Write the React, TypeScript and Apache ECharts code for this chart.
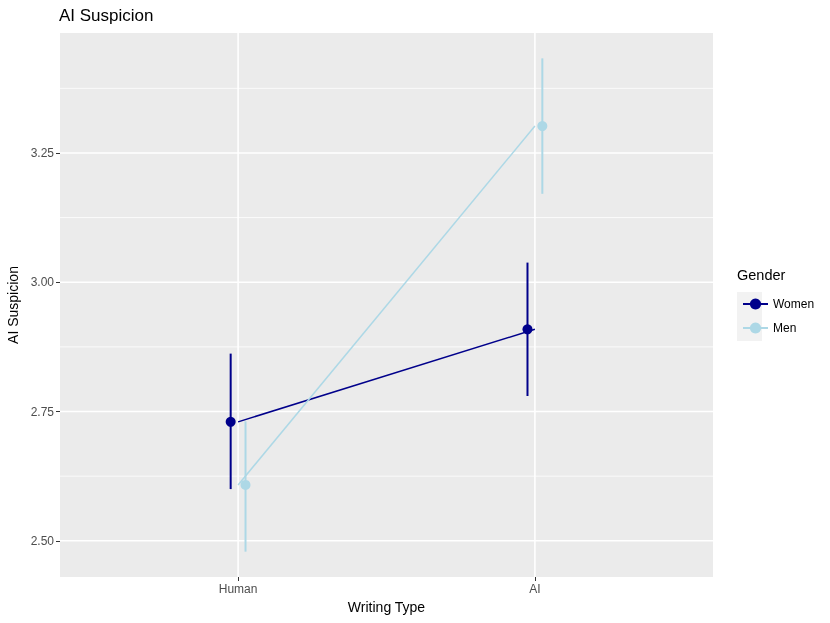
import React, { useEffect, useRef } from "react";
import * as echarts from "echarts";

const categories = ["Human", "AI"];
const categoryPos = [1, 2];
const dodge = 0.025;

const womenMean = [2.73, 2.909];
const womenLow = [2.6, 2.78];
const womenHigh = [2.862, 3.038];

const menMean = [2.608, 3.302];
const menLow = [2.479, 3.171];
const menHigh = [2.731, 3.433];

const yTicks = [2.5, 2.75, 3.0, 3.25];
const yMinor = [2.625, 2.875, 3.125, 3.375];

const X_MIN = 0.4;
const X_MAX = 2.6;
const Y_MIN = 2.43;
const Y_MAX = 3.482;

const WOMEN = "#00008B";
const MEN = "#ADD8E6";
const FONT = "Liberation Sans, Arial, sans-serif";

function errorSeries(name: string, color: string, offset: number, low: number[], high: number[]) {
  return {
    type: "custom",
    name,
    z: 4,
    data: categoryPos.map((x, i) => [x + offset, low[i], high[i]]),
    encode: { x: 0, y: [1, 2] },
    renderItem: (_params: any, api: any) => {
      const x = api.value(0);
      const p1 = api.coord([x, api.value(1)]);
      const p2 = api.coord([x, api.value(2)]);
      return {
        type: "line",
        shape: { x1: p1[0], y1: p1[1], x2: p2[0], y2: p2[1] },
        style: { stroke: color, lineWidth: 2 },
      };
    },
    silent: true,
  };
}

function hGridSeries(values: number[], width: number) {
  return {
    type: "custom",
    name: "__hgrid" + width,
    z: 1,
    silent: true,
    data: values.map((v) => [X_MIN, v]),
    encode: { x: 0, y: 1 },
    renderItem: (_params: any, api: any) => {
      const y = api.value(1);
      const p1 = api.coord([X_MIN, y]);
      const p2 = api.coord([X_MAX, y]);
      return {
        type: "line",
        shape: { x1: p1[0], y1: p1[1], x2: p2[0], y2: p2[1] },
        style: { stroke: "#FFFFFF", lineWidth: width },
      };
    },
  };
}

function vGridSeries(values: number[], width: number) {
  return {
    type: "custom",
    name: "__vgrid",
    z: 1,
    silent: true,
    data: values.map((v) => [v, Y_MIN]),
    encode: { x: 0, y: 1 },
    renderItem: (_params: any, api: any) => {
      const x = api.value(0);
      const p1 = api.coord([x, Y_MIN]);
      const p2 = api.coord([x, Y_MAX]);
      return {
        type: "line",
        shape: { x1: p1[0], y1: p1[1], x2: p2[0], y2: p2[1] },
        style: { stroke: "#FFFFFF", lineWidth: width },
      };
    },
  };
}

export default function App() {
  const ref = useRef<HTMLDivElement>(null);
  useEffect(() => {
    if (!ref.current) return;
    const chart = echarts.init(ref.current, undefined, { renderer: "svg" });
    const option: any = {
      animation: false,
      textStyle: { fontFamily: FONT },
      title: {
        text: "AI Suspicion",
        left: 54,
        top: 2,
        textStyle: { fontSize: 17, fontWeight: "normal", color: "#000", fontFamily: FONT },
      },
      grid: {
        left: 60,
        right: 117,
        top: 33,
        bottom: 46,
        show: true,
        backgroundColor: "#EBEBEB",
        borderWidth: 0,
        containLabel: false,
        outerBoundsMode: "none",
      },
      legend: {
        orient: "vertical",
        left: 737,
        top: 292,
        itemWidth: 25,
        itemHeight: 14,
        itemGap: 10,
        data: ["Women", "Men"],
        textStyle: { fontSize: 12, color: "#000", fontFamily: FONT, lineHeight: 14 },
        selectedMode: false,
      },
      graphic: [
        {
          type: "text",
          left: 737,
          top: 267,
          style: { text: "Gender", fontSize: 14.5, fill: "#000", fontFamily: FONT },
        },
        {
          type: "rect",
          shape: { x: 737, y: 292, width: 25, height: 49 },
          style: { fill: "#F2F2F2" },
          z: -1,
        },
      ],
      xAxis: {
        type: "value",
        min: X_MIN,
        max: X_MAX,
        name: "Writing Type",
        nameLocation: "middle",
        nameGap: 23,
        nameTextStyle: { fontSize: 14, color: "#000", fontFamily: FONT },
        axisLine: { show: false },
        splitLine: { show: false },
        axisTick: {
          show: true,
          customValues: categoryPos,
          length: 4,
          lineStyle: { color: "#333333", width: 1 },
        },
        axisLabel: {
          customValues: categoryPos,
          formatter: (v: number) => {
            const i = categoryPos.indexOf(Math.round(v));
            return i >= 0 ? categories[i] : "";
          },
          fontSize: 12,
          color: "#4D4D4D",
          margin: 6,
          fontFamily: FONT,
        },
      },
      yAxis: {
        type: "value",
        min: Y_MIN,
        max: Y_MAX,
        name: "AI Suspicion",
        nameLocation: "middle",
        nameGap: 38,
        nameTextStyle: { fontSize: 14, color: "#000", fontFamily: FONT },
        axisLine: { show: false },
        splitLine: { show: false },
        axisTick: {
          show: true,
          customValues: yTicks,
          length: 4,
          lineStyle: { color: "#333333", width: 1 },
        },
        axisLabel: {
          customValues: yTicks,
          formatter: (v: number) => v.toFixed(2),
          fontSize: 12,
          color: "#4D4D4D",
          margin: 6,
          fontFamily: FONT,
        },
      },
      series: [
        hGridSeries(yMinor, 0.8),
        hGridSeries(yTicks, 1.6),
        vGridSeries(categoryPos, 1.6),
        {
          type: "line",
          name: "Women",
          z: 3,
          data: categoryPos.map((x, i) => [x, womenMean[i]]),
          showSymbol: false,
          symbol: "circle",
          symbolSize: 10,
          itemStyle: { color: WOMEN },
          lineStyle: { color: WOMEN, width: 1.5 },
        },
        {
          type: "line",
          name: "Men",
          z: 3,
          data: categoryPos.map((x, i) => [x, menMean[i]]),
          showSymbol: false,
          symbol: "circle",
          symbolSize: 10,
          itemStyle: { color: MEN },
          lineStyle: { color: MEN, width: 1.5 },
        },
        errorSeries("Women", WOMEN, -dodge, womenLow, womenHigh),
        errorSeries("Men", MEN, dodge, menLow, menHigh),
        {
          type: "scatter",
          name: "Women",
          z: 5,
          symbol: "circle",
          symbolSize: 10,
          data: categoryPos.map((x, i) => [x - dodge, womenMean[i]]),
          itemStyle: { color: WOMEN, opacity: 1 },
        },
        {
          type: "scatter",
          name: "Men",
          z: 5,
          symbol: "circle",
          symbolSize: 10,
          data: categoryPos.map((x, i) => [x + dodge, menMean[i]]),
          itemStyle: { color: MEN, opacity: 1 },
        },
      ],
    };
    chart.setOption(option);
    return () => chart.dispose();
  }, []);
  return <div ref={ref} style={{ width: 830, height: 623, position: "fixed", left: 0, top: 0 }} />;
}
